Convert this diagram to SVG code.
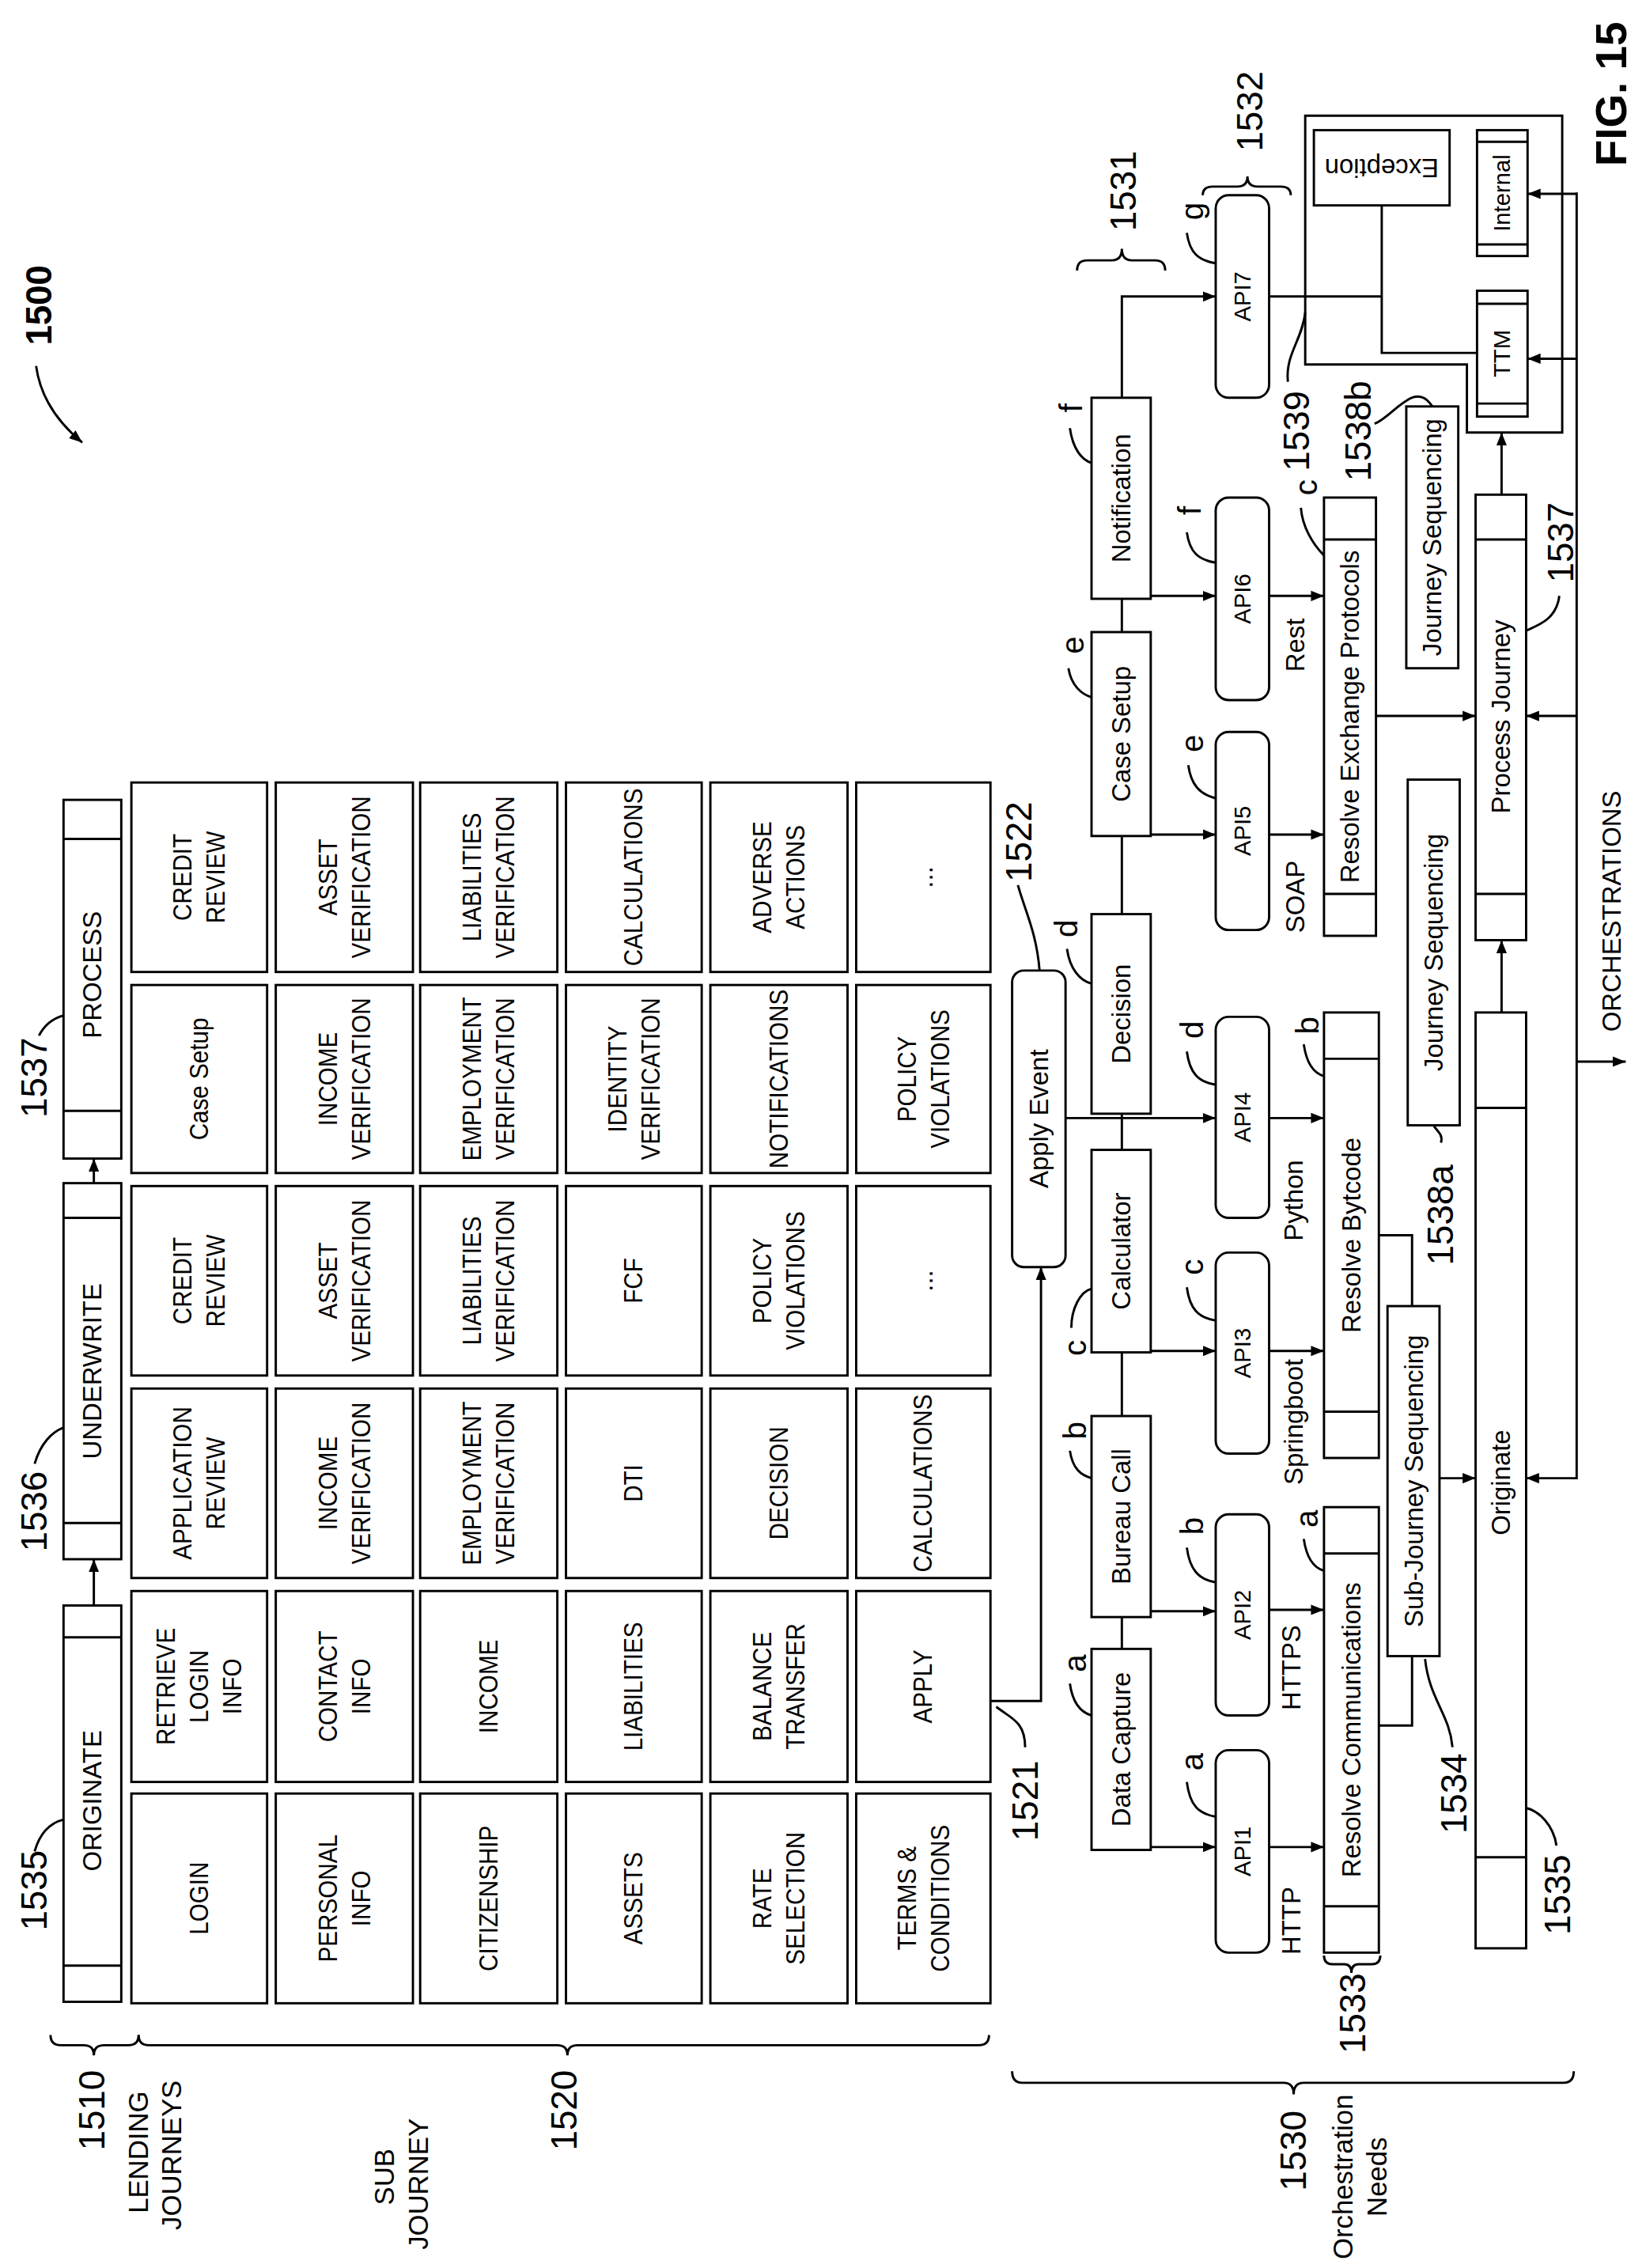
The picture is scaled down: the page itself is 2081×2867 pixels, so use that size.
<svg xmlns="http://www.w3.org/2000/svg" width="2081" height="2867" viewBox="0 0 2081 2867">
<style>
.b{fill:#fff;stroke:#000;stroke-width:1.6}
.l{fill:none;stroke:#000;stroke-width:1.6}
.t{font-family:"Liberation Sans",Arial,sans-serif;font-size:18px;text-anchor:middle;dominant-baseline:central;fill:#000}
.s{font-family:"Liberation Sans",Arial,sans-serif;font-size:16px;text-anchor:middle;dominant-baseline:central;fill:#000}
.n{font-family:"Liberation Sans",Arial,sans-serif;font-size:25px;text-anchor:middle;dominant-baseline:central;fill:#000}
.k{font-family:"Liberation Sans",Arial,sans-serif;font-size:22px;text-anchor:middle;dominant-baseline:central;fill:#000}
.g{font-family:"Liberation Sans",Arial,sans-serif;font-size:19px;text-anchor:middle;dominant-baseline:central;fill:#000}
.a{fill:none;stroke:#000;stroke-width:1.6;marker-end:url(#ah)}
</style>
<defs>
<marker id="ah" viewBox="0 0 10 10" refX="10" refY="5" markerWidth="9" markerHeight="9" markerUnits="userSpaceOnUse" orient="auto"><path d="M0,1 L10,5 L0,9 z" fill="#000"/></marker>
</defs>
<rect width="2081" height="2867" fill="#fff"/>
<g transform="scale(1.8254,1.8284)">

<g id="title">
<text class="n" style="font-weight:bold" transform="translate(27,211) rotate(-90)">1500</text>
<path class="a" d="M25,253 C28,275 40,292 57,306"/>
<text class="n" style="font-weight:bold;font-size:30px" transform="translate(1116,65) rotate(-90)">FIG. 15</text>
</g>

<g id="journeys">
<g id="originate"><rect class="b" x="44" y="1110" width="40" height="274"/><path class="l" d="M44,1132H84M44,1359H84"/><text class="t" transform="translate(64,1245) rotate(-90)">ORIGINATE</text></g>
<g id="underwrite"><rect class="b" x="44" y="818" width="40" height="260"/><path class="l" d="M44,842H84M44,1053H84"/><text class="t" transform="translate(64,948) rotate(-90)">UNDERWRITE</text></g>
<g id="process"><rect class="b" x="44" y="553" width="40" height="248"/><path class="l" d="M44,580H84M44,768H84"/><text class="t" transform="translate(64,674) rotate(-90)">PROCESS</text></g>
<text class="n" transform="translate(24,1307) rotate(-90)">1535</text><path class="l" d="M24,1280 C28,1266 36,1260 44,1258"/>
<text class="n" transform="translate(24,1045) rotate(-90)">1536</text><path class="l" d="M24,1012 C28,998 36,990 44,987"/>
<text class="n" transform="translate(24,745) rotate(-90)">1537</text><path class="l" d="M27,716 C31,708 37,704 44,702"/>
</g>

<g id="grid">
<g class="b">
<rect x="91" y="541" width="94" height="131"/><rect x="191" y="541" width="95" height="131"/><rect x="291" y="541" width="95" height="131"/><rect x="392" y="541" width="94" height="131"/><rect x="492" y="541" width="95" height="131"/><rect x="593" y="541" width="93" height="131"/>
<rect x="91" y="681" width="94" height="130"/><rect x="191" y="681" width="95" height="130"/><rect x="291" y="681" width="95" height="130"/><rect x="392" y="681" width="94" height="130"/><rect x="492" y="681" width="95" height="130"/><rect x="593" y="681" width="93" height="130"/>
<rect x="91" y="820" width="94" height="131"/><rect x="191" y="820" width="95" height="131"/><rect x="291" y="820" width="95" height="131"/><rect x="392" y="820" width="94" height="131"/><rect x="492" y="820" width="95" height="131"/><rect x="593" y="820" width="93" height="131"/>
<rect x="91" y="960" width="94" height="131"/><rect x="191" y="960" width="95" height="131"/><rect x="291" y="960" width="95" height="131"/><rect x="392" y="960" width="94" height="131"/><rect x="492" y="960" width="95" height="131"/><rect x="593" y="960" width="93" height="131"/>
<rect x="91" y="1100" width="94" height="132"/><rect x="191" y="1100" width="95" height="132"/><rect x="291" y="1100" width="95" height="132"/><rect x="392" y="1100" width="94" height="132"/><rect x="492" y="1100" width="95" height="132"/><rect x="593" y="1100" width="93" height="132"/>
<rect x="91" y="1240" width="94" height="145"/><rect x="191" y="1240" width="95" height="145"/><rect x="291" y="1240" width="95" height="145"/><rect x="392" y="1240" width="94" height="145"/><rect x="492" y="1240" width="95" height="145"/><rect x="593" y="1240" width="93" height="145"/>
</g>
<text class="t" transform="translate(138,606.5) rotate(-90) scale(0.9,1)"><tspan x="0" y="-11.5">CREDIT</tspan><tspan x="0" y="11.5">REVIEW</tspan></text>
<text class="t" transform="translate(238.5,606.5) rotate(-90) scale(0.9,1)"><tspan x="0" y="-11.5">ASSET</tspan><tspan x="0" y="11.5">VERIFICATION</tspan></text>
<text class="t" transform="translate(338.5,606.5) rotate(-90) scale(0.9,1)"><tspan x="0" y="-11.5">LIABILITIES</tspan><tspan x="0" y="11.5">VERIFICATION</tspan></text>
<text class="t" transform="translate(439,606.5) rotate(-90) scale(0.9,1)">CALCULATIONS</text>
<text class="t" transform="translate(539.5,606.5) rotate(-90) scale(0.9,1)"><tspan x="0" y="-11.5">ADVERSE</tspan><tspan x="0" y="11.5">ACTIONS</tspan></text>
<text class="t" transform="translate(639.5,606.5) rotate(-90)">...</text>

<text class="t" transform="translate(138,746) rotate(-90) scale(0.9,1)">Case Setup</text>
<text class="t" transform="translate(238.5,746) rotate(-90) scale(0.9,1)"><tspan x="0" y="-11.5">INCOME</tspan><tspan x="0" y="11.5">VERIFICATION</tspan></text>
<text class="t" transform="translate(338.5,746) rotate(-90) scale(0.9,1)"><tspan x="0" y="-11.5">EMPLOYMENT</tspan><tspan x="0" y="11.5">VERIFICATION</tspan></text>
<text class="t" transform="translate(439,746) rotate(-90) scale(0.9,1)"><tspan x="0" y="-11.5">IDENTITY</tspan><tspan x="0" y="11.5">VERIFICATION</tspan></text>
<text class="t" transform="translate(539.5,746) rotate(-90) scale(0.9,1)">NOTIFICATIONS</text>
<text class="t" transform="translate(639.5,746) rotate(-90) scale(0.9,1)"><tspan x="0" y="-11.5">POLICY</tspan><tspan x="0" y="11.5">VIOLATIONS</tspan></text>

<text class="t" transform="translate(138,885.5) rotate(-90) scale(0.9,1)"><tspan x="0" y="-11.5">CREDIT</tspan><tspan x="0" y="11.5">REVIEW</tspan></text>
<text class="t" transform="translate(238.5,885.5) rotate(-90) scale(0.9,1)"><tspan x="0" y="-11.5">ASSET</tspan><tspan x="0" y="11.5">VERIFICATION</tspan></text>
<text class="t" transform="translate(338.5,885.5) rotate(-90) scale(0.9,1)"><tspan x="0" y="-11.5">LIABILITIES</tspan><tspan x="0" y="11.5">VERIFICATION</tspan></text>
<text class="t" transform="translate(439,885.5) rotate(-90) scale(0.9,1)">FCF</text>
<text class="t" transform="translate(539.5,885.5) rotate(-90) scale(0.9,1)"><tspan x="0" y="-11.5">POLICY</tspan><tspan x="0" y="11.5">VIOLATIONS</tspan></text>
<text class="t" transform="translate(639.5,885.5) rotate(-90)">...</text>

<text class="t" transform="translate(138,1025.5) rotate(-90) scale(0.9,1)"><tspan x="0" y="-11.5">APPLICATION</tspan><tspan x="0" y="11.5">REVIEW</tspan></text>
<text class="t" transform="translate(238.5,1025.5) rotate(-90) scale(0.9,1)"><tspan x="0" y="-11.5">INCOME</tspan><tspan x="0" y="11.5">VERIFICATION</tspan></text>
<text class="t" transform="translate(338.5,1025.5) rotate(-90) scale(0.9,1)"><tspan x="0" y="-11.5">EMPLOYMENT</tspan><tspan x="0" y="11.5">VERIFICATION</tspan></text>
<text class="t" transform="translate(439,1025.5) rotate(-90) scale(0.9,1)">DTI</text>
<text class="t" transform="translate(539.5,1025.5) rotate(-90) scale(0.9,1)">DECISION</text>
<text class="t" transform="translate(639.5,1025.5) rotate(-90) scale(0.9,1)">CALCULATIONS</text>

<text class="t" transform="translate(138,1166) rotate(-90) scale(0.9,1)"><tspan x="0" y="-23">RETRIEVE</tspan><tspan x="0" y="0">LOGIN</tspan><tspan x="0" y="23">INFO</tspan></text>
<text class="t" transform="translate(238.5,1166) rotate(-90) scale(0.9,1)"><tspan x="0" y="-11.5">CONTACT</tspan><tspan x="0" y="11.5">INFO</tspan></text>
<text class="t" transform="translate(338.5,1166) rotate(-90) scale(0.9,1)">INCOME</text>
<text class="t" transform="translate(439,1166) rotate(-90) scale(0.9,1)">LIABILITIES</text>
<text class="t" transform="translate(539.5,1166) rotate(-90) scale(0.9,1)"><tspan x="0" y="-11.5">BALANCE</tspan><tspan x="0" y="11.5">TRANSFER</tspan></text>
<text class="t" transform="translate(639.5,1166) rotate(-90) scale(0.9,1)">APPLY</text>

<text class="t" transform="translate(138,1312.5) rotate(-90) scale(0.9,1)">LOGIN</text>
<text class="t" transform="translate(238.5,1312.5) rotate(-90) scale(0.9,1)"><tspan x="0" y="-11.5">PERSONAL</tspan><tspan x="0" y="11.5">INFO</tspan></text>
<text class="t" transform="translate(338.5,1312.5) rotate(-90) scale(0.9,1)">CITIZENSHIP</text>
<text class="t" transform="translate(439,1312.5) rotate(-90) scale(0.9,1)">ASSETS</text>
<text class="t" transform="translate(539.5,1312.5) rotate(-90) scale(0.9,1)"><tspan x="0" y="-11.5">RATE</tspan><tspan x="0" y="11.5">SELECTION</tspan></text>
<text class="t" transform="translate(639.5,1312.5) rotate(-90) scale(0.9,1)"><tspan x="0" y="-11.5">TERMS &amp;</tspan><tspan x="0" y="11.5">CONDITIONS</tspan></text>
</g>

<g id="applyevent"><rect class="b" x="701" y="671" width="37" height="205" rx="8"/><text class="t" transform="translate(719.5,773.5) rotate(-90)">Apply Event</text></g>
<g id="datacapture"><rect class="b" x="756" y="1140" width="41" height="139"/><text class="t" transform="translate(776.5,1209.5) rotate(-90)">Data Capture</text></g>
<g id="bureaucall"><rect class="b" x="756" y="979" width="41" height="139"/><text class="t" transform="translate(776.5,1048.5) rotate(-90)">Bureau Call</text></g>
<g id="calculator"><rect class="b" x="756" y="795" width="41" height="140"/><text class="t" transform="translate(776.5,865) rotate(-90)">Calculator</text></g>
<g id="decision"><rect class="b" x="756" y="632" width="41" height="138"/><text class="t" transform="translate(776.5,701) rotate(-90)">Decision</text></g>
<g id="casesetup"><rect class="b" x="756" y="437" width="41" height="141"/><text class="t" transform="translate(776.5,507.5) rotate(-90)">Case Setup</text></g>
<g id="notification"><rect class="b" x="756" y="275" width="41" height="139"/><text class="t" transform="translate(776.5,344.5) rotate(-90)">Notification</text></g>

<g id="api1"><rect class="b" x="842" y="1210" width="37" height="140" rx="9"/><text class="s" transform="translate(860.5,1280) rotate(-90)">API1</text></g>
<g id="api2"><rect class="b" x="842" y="1047" width="37" height="139" rx="9"/><text class="s" transform="translate(860.5,1116.5) rotate(-90)">API2</text></g>
<g id="api3"><rect class="b" x="842" y="866" width="37" height="139" rx="9"/><text class="s" transform="translate(860.5,935.5) rotate(-90)">API3</text></g>
<g id="api4"><rect class="b" x="842" y="703" width="37" height="139" rx="9"/><text class="s" transform="translate(860.5,772.5) rotate(-90)">API4</text></g>
<g id="api5"><rect class="b" x="842" y="506" width="37" height="137" rx="9"/><text class="s" transform="translate(860.5,574.5) rotate(-90)">API5</text></g>
<g id="api6"><rect class="b" x="842" y="344" width="37" height="140" rx="9"/><text class="s" transform="translate(860.5,414) rotate(-90)">API6</text></g>
<g id="api7"><rect class="b" x="842" y="135" width="37" height="140" rx="9"/><text class="s" transform="translate(860.5,205) rotate(-90)">API7</text></g>

<g id="resolvecomm"><rect class="b" x="917" y="1042" width="38" height="308"/><path class="l" d="M917,1074H955M917,1318H955"/><text class="t" transform="translate(936,1196) rotate(-90)">Resolve Communications</text></g>
<g id="resolvebyt"><rect class="b" x="917" y="700" width="38" height="308"/><path class="l" d="M917,732H955M917,976H955"/><text class="t" transform="translate(936,854) rotate(-90)">Resolve Bytcode</text></g>
<g id="resolveexch"><rect class="b" x="917" y="344" width="36" height="303"/><path class="l" d="M917,373H953M917,618H953"/><text class="t" transform="translate(935,495.5) rotate(-90)">Resolve Exchange Protocols</text></g>
<g id="subjourney"><rect class="b" x="961" y="903" width="36" height="242"/><text class="t" transform="translate(979,1024) rotate(-90)">Sub-Journey Sequencing</text></g>
<g id="journeyseqa"><rect class="b" x="975" y="539" width="36" height="239"/><text class="t" transform="translate(993,658.5) rotate(-90)">Journey Sequencing</text></g>
<g id="journeyseqb"><rect class="b" x="974" y="281" width="36" height="181"/><text class="t" transform="translate(992,371.5) rotate(-90)">Journey Sequencing</text></g>
<g id="originate2"><rect class="b" x="1022" y="700" width="35" height="647"/><path class="l" d="M1022,766H1057M1022,1284H1057"/><text class="t" transform="translate(1039.5,1025) rotate(-90)">Originate</text></g>
<g id="processjourney"><rect class="b" x="1022" y="342" width="35" height="308"/><path class="l" d="M1022,373H1057M1022,618H1057"/><text class="t" transform="translate(1039.5,495.5) rotate(-90)">Process Journey</text></g>

<g id="container1539">
<path class="b" d="M904,80H1082V299H1016V252H904Z"/>
<g id="exception"><rect class="b" x="910" y="90" width="94" height="52"/><text class="t" transform="translate(957,116) rotate(180)">Exception</text></g>
<g id="ttm"><rect class="b" x="1023" y="201" width="35" height="87"/><path class="l" d="M1023,210H1058M1023,279H1058"/><text class="s" transform="translate(1040.5,244.5) rotate(-90)">TTM</text></g>
<g id="internal"><rect class="b" x="1023" y="90" width="35" height="87"/><path class="l" d="M1023,98H1058M1023,169H1058"/><text class="s" transform="translate(1040.5,133.5) rotate(-90)">Internal</text></g>
</g>

<g id="connectors">
<path class="a" d="M65,1110V1078"/>
<path class="a" d="M65,818V801"/>
<path class="a" d="M686,1176H721V876"/>
<path class="l" d="M777,1140V1118M777,979V935M777,795V770M777,632V578M777,437V414"/>
<path class="a" d="M797,1277H842"/>
<path class="a" d="M797,1114H842"/>
<path class="a" d="M797,934H842"/>
<path class="a" d="M738,773H842"/>
<path class="a" d="M797,577H842"/>
<path class="a" d="M797,412H842"/>
<path class="a" d="M777,275V205H842"/>
<path class="a" d="M879,1277H917"/>
<path class="a" d="M879,1113H917"/>
<path class="a" d="M879,934H917"/>
<path class="a" d="M879,773H917"/>
<path class="a" d="M879,577H917"/>
<path class="a" d="M879,412H917"/>
<path class="l" d="M955,1193H978V1145"/>
<path class="l" d="M955,854H978V903"/>
<path class="a" d="M997,1022H1022"/>
<path class="a" d="M1040,700V650"/>
<path class="a" d="M1040,342V299"/>
<path class="a" d="M953,495H1022"/>
<path class="a" d="M1092,133V1022H1057"/>
<path class="a" d="M1092,134H1058"/>
<path class="a" d="M1092,248H1058"/>
<path class="a" d="M1092,495H1057"/>
<path class="a" d="M1092,734H1126"/>
<path class="l" d="M879,205H957M957,142V244H1023"/>
</g>

<g id="labels">
<text class="t" transform="translate(894.5,1328) rotate(-90)">HTTP</text>
<text class="t" transform="translate(894.5,1153) rotate(-90)">HTTPS</text>
<text class="t" transform="translate(896,983) rotate(-90)">Springboot</text>
<text class="t" transform="translate(896,830) rotate(-90)">Python</text>
<text class="t" transform="translate(897,620) rotate(-90)">SOAP</text>
<text class="t" transform="translate(897,446) rotate(-90)">Rest</text>
<text class="t" transform="translate(1116,630) rotate(-90)">ORCHESTRATIONS</text>

<text class="k" transform="translate(826,1218) rotate(-90)">a</text><path class="l" d="M822,1232 C824,1248 830,1254 842,1256"/>
<text class="k" transform="translate(826,1055) rotate(-90)">b</text><path class="l" d="M822,1070 C824,1085 830,1092 842,1094"/>
<text class="k" transform="translate(826,876) rotate(-90)">c</text><path class="l" d="M822,890 C824,905 830,911 842,913"/>
<text class="k" transform="translate(826,712) rotate(-90)">d</text><path class="l" d="M822,727 C824,742 830,748 842,750"/>
<text class="k" transform="translate(826,514) rotate(-90)">e</text><path class="l" d="M823,529 C825,543 831,549 842,552"/>
<text class="k" transform="translate(824,353) rotate(-90)">f</text><path class="l" d="M822,368 C824,382 830,387 842,389"/>
<text class="k" transform="translate(826,146) rotate(-90)">g</text><path class="l" d="M822,161 C824,175 830,180 842,182"/>
<text class="k" transform="translate(745,1150) rotate(-90)">a</text><path class="l" d="M741,1164 C743,1178 749,1184 756,1186"/>
<text class="k" transform="translate(745,989) rotate(-90)">b</text><path class="l" d="M741,1003 C743,1016 749,1020 756,1022"/>
<text class="k" transform="translate(745,932) rotate(-90)">c</text><path class="l" d="M742,918 C742,905 748,893 756,891"/>
<text class="k" transform="translate(738.5,642) rotate(-90)">d</text><path class="l" d="M739,656 C741,670 748,678 756,680"/>
<text class="k" transform="translate(743,446) rotate(-90)">e</text><path class="l" d="M740,462 C742,474 749,480 756,482"/>
<text class="k" transform="translate(742,282) rotate(-90)">f</text><path class="l" d="M741,296 C743,310 749,318 756,320"/>
<text class="k" transform="translate(905.5,1050) rotate(-90)">a</text><path class="l" d="M903,1064 C905,1078 910,1084 917,1086"/>
<text class="k" transform="translate(906,709) rotate(-90)">b</text><path class="l" d="M903,722 C905,736 910,742 917,744"/>
<text class="k" transform="translate(905,337) rotate(-90)">c</text><path class="l" d="M901,351 C902,364 909,376 917,384"/>

<text class="n" transform="translate(710,1245) rotate(-90)">1521</text><path class="l" d="M690,1180 C700,1188 710,1190 710,1208"/>
<text class="n" transform="translate(706,582) rotate(-90)">1522</text><path class="l" d="M705,612 C710,630 718,645 720,671"/>
<text class="n" transform="translate(937,1392) rotate(-90)">1533</text><path class="l" d="M917,1352 Q917,1358 923,1358 L931,1358 Q936,1358 936,1364 Q936,1358 941,1358 L950,1358 Q956,1358 956,1352"/>
<text class="n" transform="translate(1007,1240) rotate(-90)">1534</text><path class="l" d="M1006,1208 C1004,1185 990,1175 987,1147"/>
<text class="n" transform="translate(998,840) rotate(-90)">1538a</text><path class="l" d="M998,790 C1000,784 994,781 993,778"/>
<text class="n" transform="translate(941,298) rotate(-90)">1538b</text><path class="l" d="M952,293 C965,288 980,262 992,281"/>
<text class="n" transform="translate(898,298) rotate(-90)">1539</text><path class="l" d="M892,264 C890,245 902,235 904,216"/>
<text class="n" transform="translate(1081,375) rotate(-90)">1537</text><path class="l" d="M1080,412 C1078,428 1066,432 1057,436"/>
<text class="n" transform="translate(1079,1310) rotate(-90)">1535</text><path class="l" d="M1078,1276 C1076,1262 1066,1252 1057,1250"/>
<text class="n" transform="translate(778,132) rotate(-90)">1531</text><path class="l" d="M746,187 Q746,180 753,180 L770,180 Q777,180 777,172 Q777,180 784,180 L800,180 Q807,180 807,187"/>
<text class="n" transform="translate(866,77) rotate(-90)">1532</text><path class="l" d="M833,135 Q833,129 840,129 L857,129 Q864,129 864,122 Q864,129 871,129 L887,129 Q894,129 894,135"/>
</g>

<g id="legend">
<path class="l" d="M35,1407 Q35,1414 42,1414 L58,1414 Q65,1414 65,1421 Q65,1414 72,1414 L89,1414 Q96,1414 96,1407"/>
<path class="l" d="M96,1407 Q96,1414 103,1414 L386,1414 Q393,1414 393,1421 Q393,1414 400,1414 L678,1414 Q685,1414 685,1407"/>
<path class="l" d="M701,1432 Q701,1440 708,1440 L889,1440 Q896,1440 896,1448 Q896,1440 903,1440 L1083,1440 Q1090,1440 1090,1432"/>
<text class="n" transform="translate(64,1459) rotate(-90)">1510</text>
<text class="g" transform="translate(96,1488) rotate(-90)">LENDING</text>
<text class="g" transform="translate(119,1490) rotate(-90)">JOURNEYS</text>
<text class="n" transform="translate(391,1459) rotate(-90)">1520</text>
<text class="g" transform="translate(266,1505) rotate(-90)">SUB</text>
<text class="g" transform="translate(290,1510) rotate(-90)">JOURNEY</text>
<text class="n" transform="translate(896,1487) rotate(-90)">1530</text>
<text class="g" transform="translate(930,1505) rotate(-90)">Orchestration</text>
<text class="g" transform="translate(954,1505) rotate(-90)">Needs</text>
</g>
</g>
</svg>
